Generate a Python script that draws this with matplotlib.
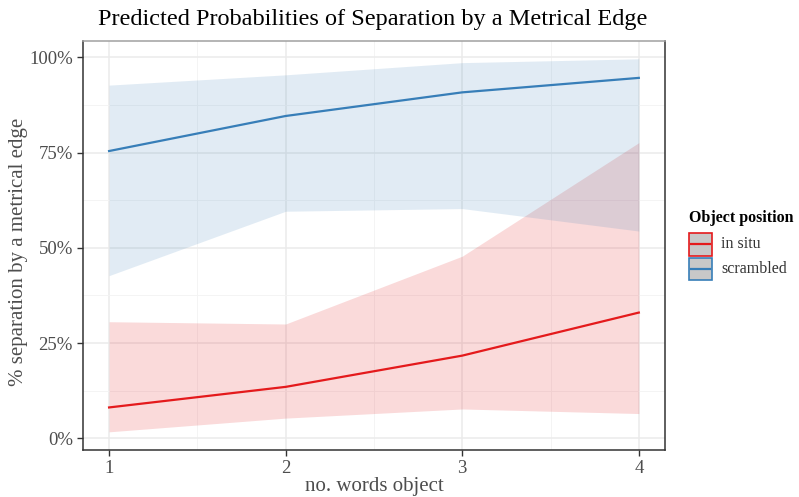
import matplotlib
matplotlib.use("Agg")
import matplotlib.pyplot as plt
from matplotlib.patches import Rectangle
from matplotlib.lines import Line2D
from matplotlib.ticker import FuncFormatter, MultipleLocator

plt.rcParams['font.family'] = ['Liberation Serif', 'DejaVu Serif']

words = [1, 2, 3, 4]
in_situ_fit = [0.081, 0.135, 0.217, 0.330]
in_situ_lo = [0.017, 0.053, 0.077, 0.065]
in_situ_hi = [0.306, 0.300, 0.478, 0.776]
scr_fit = [0.754, 0.846, 0.908, 0.946]
scr_lo = [0.427, 0.596, 0.603, 0.544]
scr_hi = [0.927, 0.954, 0.986, 0.996]
series_labels = ["in situ", "scrambled"]
yticks = [0, 0.25, 0.5, 0.75, 1.0]

red = "#E41A1C"
blue = "#377EB8"

fig = plt.figure(figsize=(7.99, 4.97), dpi=100)
ax = fig.add_axes([82.6/799, 1-450/497, (665.3-82.6)/799, (450-40.7)/497])

ax.fill_between(words, in_situ_lo, in_situ_hi, color=red, alpha=0.16, lw=0, zorder=2)
ax.fill_between(words, scr_lo, scr_hi, color=blue, alpha=0.15, lw=0, zorder=2)
ax.plot(words, in_situ_fit, color=red, lw=1.6, zorder=3)
ax.plot(words, scr_fit, color=blue, lw=1.6, zorder=3)

ax.set_xlim(0.85, 4.15)
ax.set_ylim(-0.0307, 1.0436)
ax.set_xticks(words)
ax.set_yticks(yticks)
ax.xaxis.set_minor_locator(MultipleLocator(0.5))
ax.yaxis.set_minor_locator(MultipleLocator(0.125))
ax.yaxis.set_major_formatter(FuncFormatter(lambda v, p: f"{int(round(v*100))}%"))
ax.grid(True, which='major', color='#EBEBEB', lw=1.1, zorder=0)
ax.grid(True, which='minor', color='#F3F3F3', lw=0.6, zorder=0)
ax.set_axisbelow(True)
ax.tick_params(which='major', length=4, width=1, color='#333333', labelsize=13.5,
               labelcolor='#4D4D4D', pad=3)
ax.tick_params(which='minor', length=0)
for s in ['left', 'bottom', 'right']:
    ax.spines[s].set_color('#333333')
    ax.spines[s].set_linewidth(1.1)
ax.spines['top'].set_color('#A0A0A0')
ax.spines['top'].set_linewidth(1.1)

ax.set_xlabel("no. words object", fontsize=15, color='#4D4D4D', va='center')
ax.xaxis.set_label_coords((374.5-82.6)/582.7, (450-486)/409.3)
ax.set_ylabel("% separation by a metrical edge", fontsize=15, color='#4D4D4D', va='center')
ax.yaxis.set_label_coords((18-82.6)/582.7, (450-251.5)/409.3)
fig.text(98/799, 1-20/497, "Predicted Probabilities of Separation by a Metrical Edge",
         fontsize=17.5, color='black', ha='left', va='center')

# legend
fig.text(689/799, 1-218/497, "Object position", fontsize=11.5, fontweight='bold',
         ha='left', va='center')
for i, (lab, col) in enumerate(zip(series_labels, [red, blue])):
    y0 = 233 + i*24.5
    fig.add_artist(Rectangle((689/799, 1-(y0+22.5)/497), 23/799, 22.5/497,
                             facecolor='#C8C8C8', edgecolor=col, lw=1.2,
                             transform=fig.transFigure))
    fig.add_artist(Line2D([691/799, 710/799], [1-(y0+11.25)/497]*2, color=col, lw=1.6,
                          transform=fig.transFigure))
    fig.text(721/799, 1-(y0+11.5)/497, lab, fontsize=11.5, color='#333333',
             ha='left', va='center')

fig.savefig("out.png", dpi=100)
